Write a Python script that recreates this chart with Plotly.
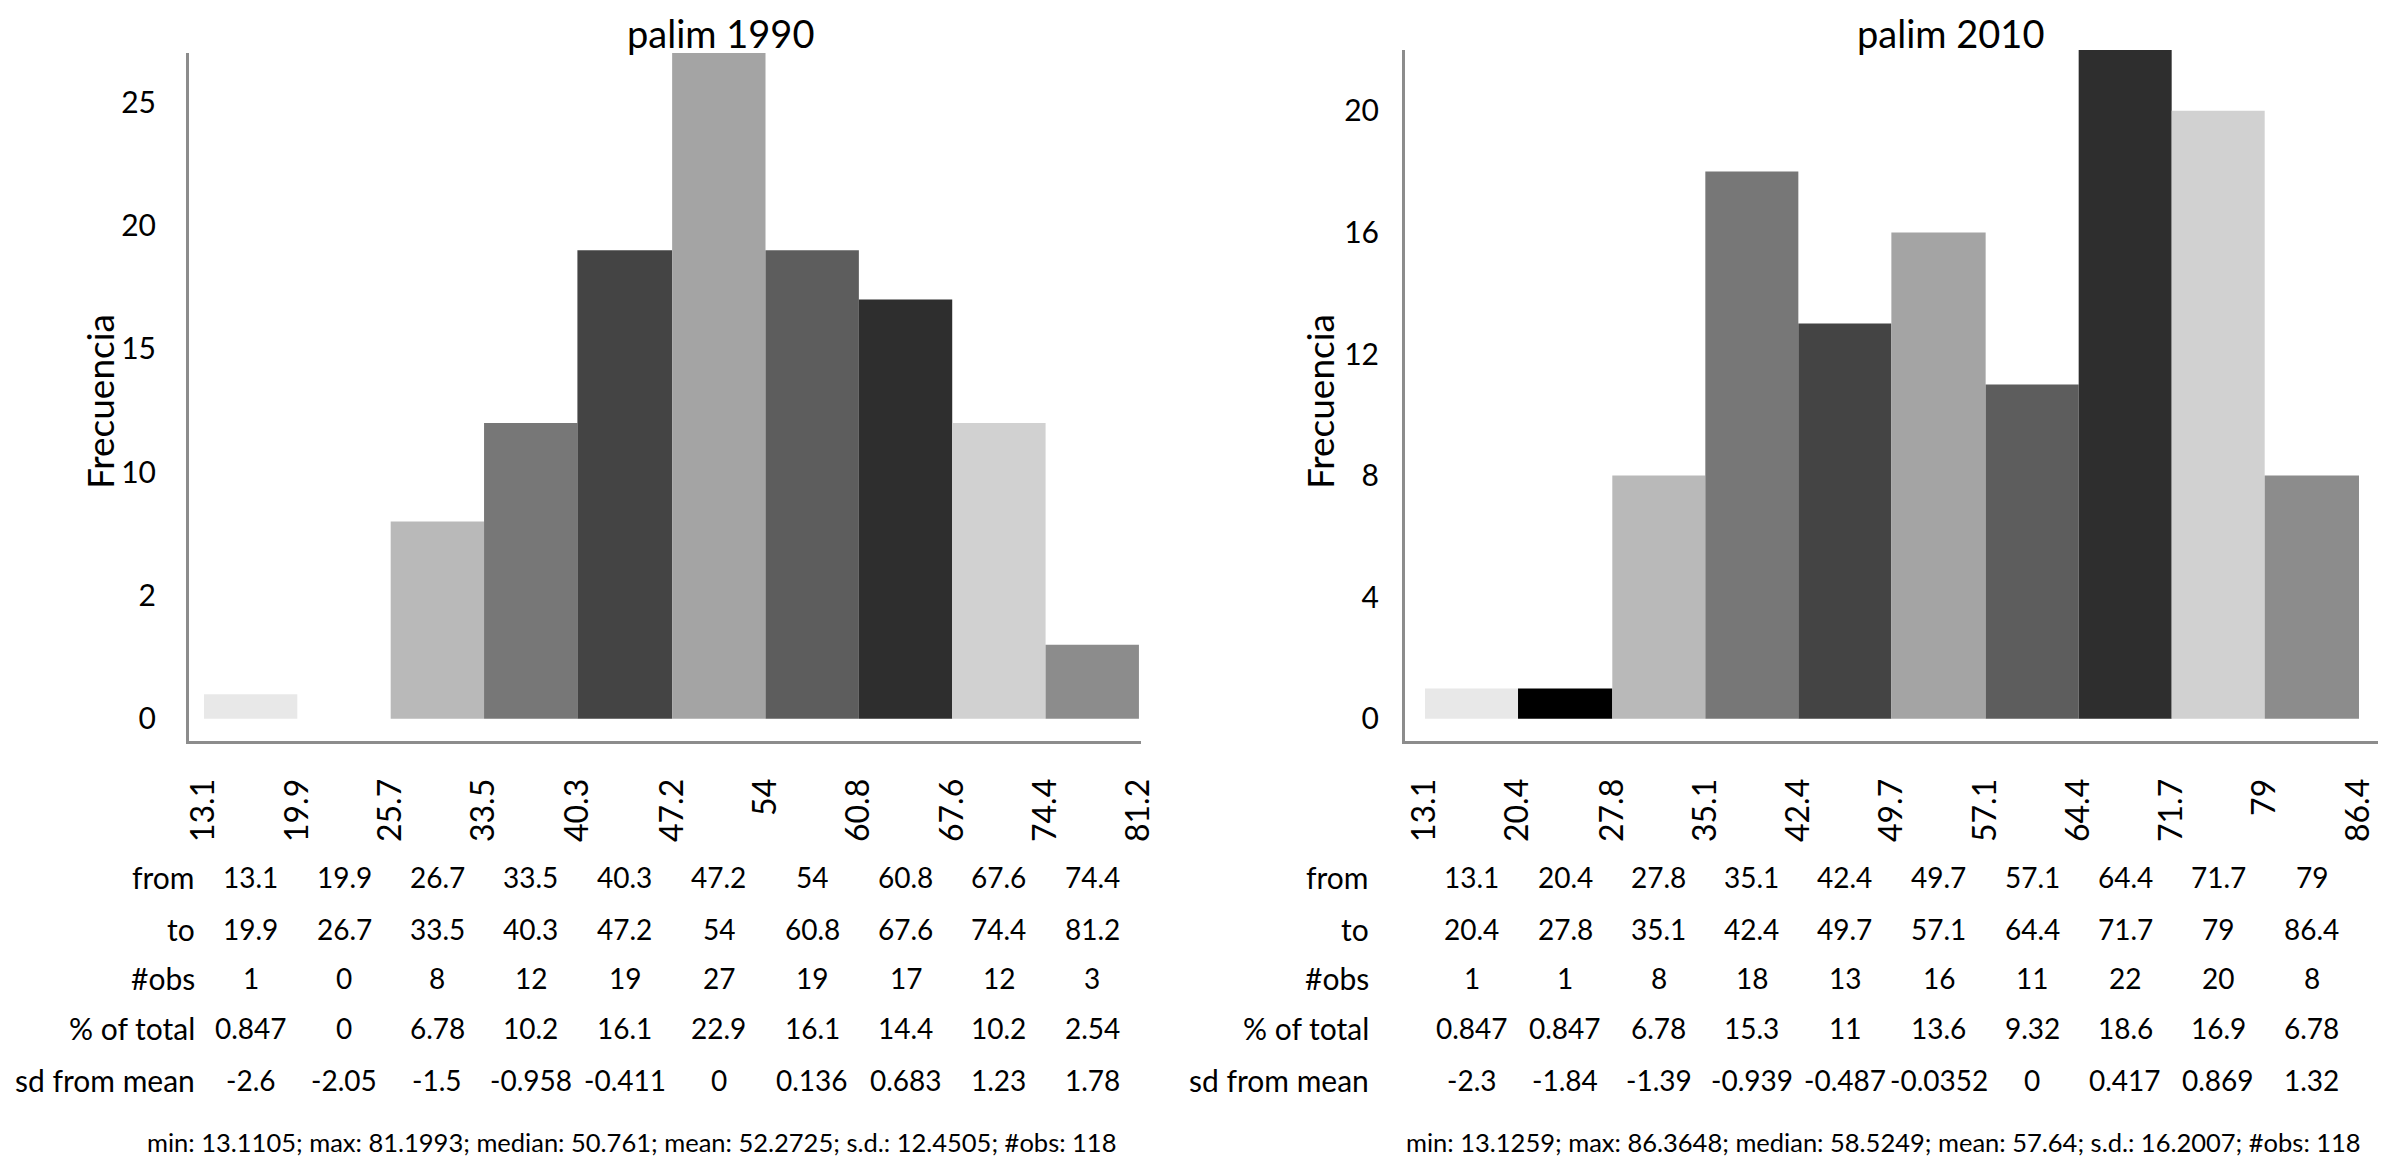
import plotly.graph_objects as go

# --- Data ---
left_title = 'palim 1990'
left_from = [13.1, 19.9, 26.7, 33.5, 40.3, 47.2, 54, 60.8, 67.6, 74.4]
left_to = [19.9, 26.7, 33.5, 40.3, 47.2, 54, 60.8, 67.6, 74.4, 81.2]
left_obs = [1, 0, 8, 12, 19, 27, 19, 17, 12, 3]
left_pct = ['0.847', '0', '6.78', '10.2', '16.1', '22.9', '16.1', '14.4', '10.2', '2.54']
left_sd = ['-2.6', '-2.05', '-1.5', '-0.958', '-0.411', '0', '0.136', '0.683', '1.23', '1.78']
left_xticks = ['13.1', '19.9', '25.7', '33.5', '40.3', '47.2', '54', '60.8', '67.6', '74.4', '81.2']
left_yvals = [0, 5, 10, 15, 20, 25]
left_ytext = ['0', '2', '10', '15', '20', '25']
left_summary = 'min: 13.1105; max: 81.1993; median: 50.761; mean: 52.2725; s.d.: 12.4505; #obs: 118'

right_title = 'palim 2010'
right_from = [13.1, 20.4, 27.8, 35.1, 42.4, 49.7, 57.1, 64.4, 71.7, 79]
right_to = [20.4, 27.8, 35.1, 42.4, 49.7, 57.1, 64.4, 71.7, 79, 86.4]
right_obs = [1, 1, 8, 18, 13, 16, 11, 22, 20, 8]
right_pct = ['0.847', '0.847', '6.78', '15.3', '11', '13.6', '9.32', '18.6', '16.9', '6.78']
right_sd = ['-2.3', '-1.84', '-1.39', '-0.939', '-0.487', '-0.0352', '0', '0.417', '0.869', '1.32']
right_xticks = ['13.1', '20.4', '27.8', '35.1', '42.4', '49.7', '57.1', '64.4', '71.7', '79', '86.4']
right_yvals = [0, 4, 8, 12, 16, 20]
right_summary = 'min: 13.1259; max: 86.3648; median: 58.5249; mean: 57.64; s.d.: 16.2007; #obs: 118'

row_labels = ['from', 'to', '#obs', '% of total', 'sd from mean']
bar_colors = ['#e8e8e8', '#000000', '#b9b9b9', '#777777', '#444444',
              '#a4a4a4', '#5d5d5d', '#2e2e2e', '#d1d1d1', '#8c8c8c']

# --- Layout helpers ---
# the page body has an 8px margin, so the figure is made 8px smaller and
# screen pixel positions are converted to paper fractions with that offset
OFF = 8
W, H = 2386 - OFF, 1161 - OFF
FONT = 'Lato'
AXIS_GRAY = '#8c8c8c'


def px(x):
    return (x - OFF) / W


def py(y):
    return 1 - (y - OFF) / H


def fmt(v):
    return ('%g' % v)


fig = go.Figure()

panels = [
    dict(xa='x', ya='y', frm=left_from, to=left_to, obs=left_obs, pct=left_pct, sd=left_sd),
    dict(xa='x2', ya='y2', frm=right_from, to=right_to, obs=right_obs, pct=right_pct, sd=right_sd),
]

for p in panels:
    centers = [(a + b) / 2 for a, b in zip(p['frm'], p['to'])]
    widths = [b - a for a, b in zip(p['frm'], p['to'])]
    fig.add_trace(go.Bar(
        x=centers, y=p['obs'], width=widths,
        marker=dict(color=bar_colors, line=dict(width=0)),
        xaxis=p['xa'], yaxis=p['ya'], showlegend=False, hoverinfo='skip',
    ))

axis_common = dict(showline=True, linecolor=AXIS_GRAY, linewidth=3, showgrid=False,
                   zeroline=False, ticks='', automargin=False,
                   tickfont=dict(family=FONT, size=32, color='black'))
ytick_font = dict(family=FONT, size=30, color='black')

fig.update_layout(
    width=W, height=H,
    margin=dict(l=0, r=0, t=0, b=0, autoexpand=False),
    plot_bgcolor='white', paper_bgcolor='white',
    font=dict(family=FONT, color='black'),
    xaxis=dict(axis_common, domain=[px(189), px(1141)], range=[12.01, 81.35],
               tickvals=left_from + [left_to[-1]], ticktext=left_xticks,
               tickangle=-90, ticklabelstandoff=22, anchor='y'),
    yaxis=dict(axis_common, domain=[py(741), py(53)], range=[-0.90, 27.0],
               tickvals=left_yvals, ticktext=left_ytext, ticklabelstandoff=24,
               tickfont=ytick_font, anchor='x'),
    xaxis2=dict(axis_common, domain=[px(1405), 1.0], range=[11.53, 88.52],
                tickvals=right_from + [right_to[-1]], ticktext=right_xticks,
                tickangle=-90, ticklabelstandoff=22, anchor='y2'),
    yaxis2=dict(axis_common, domain=[py(741), py(50)], range=[-0.73, 22.0],
                tickvals=right_yvals, ticktext=[fmt(v) for v in right_yvals],
                ticklabelstandoff=17, tickfont=ytick_font, anchor='x2'),
)

annotations = []

# titles and y-axis titles
for text, x in [(left_title, 720), (right_title, 1950)]:
    annotations.append(dict(text=text, x=px(x), y=1.0, xref='paper', yref='paper',
                            showarrow=False, xanchor='center', yanchor='top',
                            font=dict(family=FONT, size=38, color='black')))
for x in [100, 1320]:
    annotations.append(dict(text='Frecuencia', x=px(x), y=py(402), xref='paper', yref='paper',
                            showarrow=False, textangle=-90, xanchor='center', yanchor='middle',
                            font=dict(family=FONT, size=37, color='black')))

# tables under each histogram
row_y = [877, 929, 978, 1028, 1080]
for p, label_x in zip(panels, [197, 1371]):
    rows = [[fmt(v) for v in p['frm']], [fmt(v) for v in p['to']],
            [str(v) for v in p['obs']], p['pct'], p['sd']]
    centers = [(a + b) / 2 for a, b in zip(p['frm'], p['to'])]
    for label, values, y in zip(row_labels, rows, row_y):
        annotations.append(dict(text=label, x=px(label_x), y=py(y), xref='paper', yref='paper',
                                showarrow=False, xanchor='right', yanchor='middle',
                                font=dict(family=FONT, size=30, color='black')))
        for c, v in zip(centers, values):
            annotations.append(dict(text=v, x=c, y=py(y), xref=p['xa'], yref='paper',
                                    showarrow=False, xanchor='center', yanchor='middle',
                                    font=dict(family=FONT, size=28, color='black')))

# summary lines
for text, x in [(left_summary, 631), (right_summary, 1883)]:
    annotations.append(dict(text=text, x=px(x), y=py(1142), xref='paper', yref='paper',
                            showarrow=False, xanchor='center', yanchor='middle',
                            font=dict(family=FONT, size=25.5, color='black')))

fig.update_layout(annotations=annotations)

fig.write_html("out.html")
